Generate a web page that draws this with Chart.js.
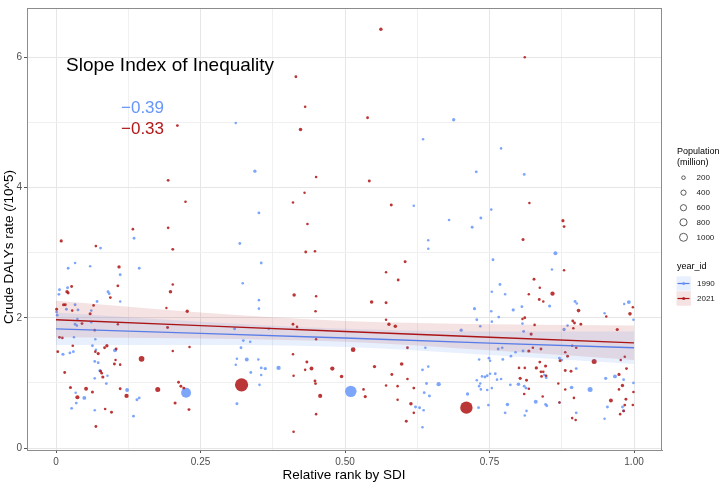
<!DOCTYPE html>
<html><head><meta charset="utf-8">
<script src="https://cdn.jsdelivr.net/npm/chart.js@4.4.0/dist/chart.umd.min.js"></script>
<style>html,body{margin:0;padding:0;background:#fff}#wrap{width:720px;height:482px;position:relative}</style>
</head><body><div id="wrap"><canvas id="c" width="720" height="482"></canvas></div>
<script>
// ---------- data ----------
const years = ['1990', '2021'];
const titleText = 'Slope Index of Inequality';
const siiValues = ['\u22120.39', '\u22120.33'];
const xTickValues = [0, 0.25, 0.5, 0.75, 1];
const xTickLabels = ['0', '0.25', '0.50', '0.75', '1.00'];
const xMinorValues = [0.125, 0.375, 0.625, 0.875];
const yTickValues = [0, 2, 4, 6];
const yTickLabels = ['0', '2', '4', '6'];
const yMinorValues = [1, 3, 5];
const legendPop = [200, 400, 600, 800, 1000];

const x2021 = [0.009,0.069,0.133,0.194,0.202,0.109,0.107,0.094,0.027,0.019,0.021,0.198,0.202,0.013,0.016,0.001,0.065,0.059,0.028,0.191,
0.227,0.045,0.107,0.193,0.067,0.006,0.011,0.003,0.029,0.088,0.084,0.104,0.073,0.068,0.148,0.103,0.101,0.111,0.015,0.077,
0.079,0.081,0.202,0.231,0.212,0.216,0.221,0.176,0.025,0.052,0.063,0.037,0.111,0.122,0.206,0.230,0.085,0.096,0.069,0.321,
0.580,0.435,0.432,0.448,0.604,0.571,0.592,0.412,0.450,0.449,0.546,0.571,0.571,0.576,0.587,0.410,0.417,0.514,0.434,0.410,
0.442,0.478,0.431,0.494,0.411,0.448,0.449,0.457,0.450,0.411,0.551,0.598,0.581,0.608,0.571,0.591,0.532,0.535,0.619,0.591,
0.614,0.619,0.606,0.608,0.450,
0.877,0.879,0.808,0.879,0.827,0.837,0.818,0.859,0.836,0.843,0.904,0.993,0.998,0.952,0.807,0.811,0.894,0.897,0.908,0.895,
0.828,0.971,0.822,0.818,0.825,0.839,0.885,0.872,0.881,0.893,0.900,0.931,0.837,0.847,0.831,0.843,0.839,0.801,0.811,0.881,
0.891,0.803,0.814,0.840,0.848,0.869,0.818,0.810,0.881,0.896,0.842,0.871,0.893,0.899,0.710,0.974,0.980,0.974,0.987,0.960,
0.986,0.984,0.999,0.998,0.976,0.982,0.977,0.984,
0.415,0.431,0.423,0.210,0.194,0.224,0.450,0.430,0.410,0.562,0.811,0.539,0.542,0.819];
const y2021 = [3.18,3.10,3.36,3.38,3.05,2.78,2.49,2.31,2.48,2.40,2.38,2.40,2.51,2.20,2.20,2.13,2.19,2.06,2.11,2.15,
2.10,1.91,1.90,1.85,1.81,1.70,1.69,1.48,1.57,1.57,1.54,1.52,1.45,1.48,1.37,1.35,1.29,1.28,1.16,1.18,
1.15,1.09,1.49,1.55,1.01,0.95,0.92,0.90,0.93,0.91,0.86,0.78,0.91,0.80,0.69,0.59,0.60,0.55,0.33,0.97,
3.73,3.44,3.01,3.02,2.86,2.70,2.58,2.35,2.33,2.10,2.24,2.23,1.97,1.90,1.87,1.90,1.86,1.51,1.32,1.44,
1.22,1.22,1.20,1.10,1.11,1.03,0.99,0.80,0.52,0.25,1.25,1.29,1.13,1.06,0.96,0.95,0.90,0.79,0.92,0.74,
0.68,0.54,0.41,1.54,1.67,
3.49,3.40,3.20,2.73,2.59,2.46,2.36,2.37,2.28,2.25,2.11,2.06,2.16,2.02,1.98,2.00,1.95,1.92,1.90,1.84,
1.89,1.82,1.75,1.49,1.54,1.52,1.41,1.34,1.47,1.57,1.54,1.33,1.32,1.26,1.23,1.17,1.17,1.23,1.23,1.19,
1.18,1.07,1.04,1.10,1.11,0.99,0.91,0.83,0.90,0.77,0.79,0.70,0.46,0.43,0.62,1.13,0.96,0.90,1.22,0.73,
0.75,0.66,0.86,0.66,0.52,0.57,1.35,1.40,
5.70,5.24,4.89,4.95,4.11,3.78,4.16,3.92,3.77,6.43,6.00,5.07,4.10,3.76];
const pop2021 = [15,5,5,5,8,20,8,8,8,20,10,25,3,12,10,10,5,12,4,2,
20,8,3,10,4,8,5,8,5,20,8,8,15,4,150,3,10,4,8,10,
5,15,3,3,8,10,10,100,12,40,12,50,8,60,12,10,4,10,8,1400,
10,4,8,4,10,3,8,25,3,4,25,10,3,20,25,8,4,80,10,3,
40,60,3,25,3,8,8,50,4,4,20,30,10,4,3,4,4,15,8,3,
25,4,10,8,4,
15,8,12,3,10,3,3,60,8,3,30,30,3,3,3,8,8,8,8,3,
4,15,15,15,4,8,10,10,4,4,4,100,8,15,20,4,8,4,4,8,
10,15,10,8,4,4,4,4,3,4,3,3,4,4,1200,15,20,4,8,40,
10,8,4,4,4,8,3,3,
8,4,25,8,8,4,4,3,3,25,3,8,10,3];

const x1990 = [0.077,0.033,0.021,0.059,0.111,0.144,0.135,0.006,0.005,0.020,0.090,0.092,0.071,0.111,0.033,0.018,0.038,0.001,0.002,0.061,
0.037,0.033,0.036,0.061,0.318,0.309,0.012,0.024,0.030,0.031,0.063,0.069,0.102,0.068,0.067,0.073,0.076,0.067,0.089,0.087,
0.034,0.049,0.035,0.027,0.123,0.140,0.144,0.134,0.067,0.225,0.313,0.320,0.313,0.311,0.351,0.619,0.355,0.323,0.351,0.351,
0.644,0.644,0.680,0.368,0.330,0.324,0.336,0.350,0.355,0.362,0.385,0.337,0.355,0.352,0.510,0.634,0.644,0.641,0.662,0.637,
0.646,0.622,0.629,0.636,0.634,0.639,0.735,0.720,0.753,0.864,0.756,0.858,0.768,0.754,0.777,0.898,0.901,0.991,0.724,0.753,
0.791,0.806,0.854,0.728,0.766,0.807,0.754,0.734,0.701,0.879,0.885,0.949,0.999,0.983,0.809,0.765,0.772,0.787,0.795,0.808,
0.732,0.749,0.751,0.773,0.871,0.875,0.900,0.737,0.742,0.746,0.751,0.760,0.728,0.763,0.770,0.734,0.735,0.746,0.754,0.786,
0.800,0.810,0.813,0.848,0.845,0.892,0.924,0.712,0.731,0.748,0.781,0.830,0.847,0.849,0.871,0.777,0.814,0.811,0.900,0.949,
0.951,0.967,0.982,0.954,0.980,0.982,0.999,0.732,0.311,0.344,0.688,0.635,0.770,0.727,0.810];
const y1990 = [3.07,2.84,2.76,2.79,2.66,2.76,3.22,2.43,2.36,2.46,2.40,2.37,2.25,2.25,2.20,2.13,2.12,2.09,2.04,2.11,
1.98,1.90,1.88,1.93,3.14,1.83,1.44,1.46,1.48,1.70,1.57,1.51,1.50,1.67,1.33,1.31,1.19,1.07,1.11,0.99,
0.85,0.77,0.69,0.61,0.89,0.74,0.77,0.49,0.58,0.85,0.68,1.54,1.37,1.28,3.61,3.72,2.84,2.53,2.27,2.14,
3.19,3.06,3.50,1.83,1.36,1.65,1.63,1.36,1.23,1.22,1.23,1.16,1.12,0.97,0.87,1.20,1.25,0.99,0.98,0.85,
0.80,0.63,0.62,0.58,0.32,1.54,3.53,3.39,3.66,2.99,2.89,2.74,2.51,2.40,2.36,2.25,2.22,2.24,2.14,2.10,
2.12,2.17,2.18,1.97,2.01,1.91,1.94,1.87,1.81,1.82,1.88,2.07,1.97,2.21,1.79,1.52,1.54,1.41,1.47,1.49,
1.36,1.38,1.34,1.36,1.38,1.35,1.22,1.10,1.09,1.11,1.14,1.14,1.04,1.05,1.06,0.99,0.90,0.89,0.92,0.97,
0.98,0.95,0.92,1.08,1.12,0.93,0.90,0.83,0.62,0.66,0.67,0.71,0.67,0.65,0.70,0.54,0.57,0.50,0.54,0.45,
1.07,1.10,1.05,0.63,0.63,0.57,1.00,0.95,4.99,4.25,5.04,4.74,4.60,4.24,4.20];
const pop1990 = [8,3,8,3,8,8,8,10,8,10,10,8,8,3,8,8,8,10,8,4,
4,8,4,4,8,10,15,8,8,3,8,4,40,3,8,8,15,4,3,8,
3,40,8,8,40,10,4,8,3,700,10,8,3,3,8,4,8,4,4,4,
4,4,4,4,40,8,4,4,8,20,60,8,3,4,1000,8,4,10,60,8,
10,10,10,4,4,3,10,10,3,40,8,3,8,4,4,10,4,40,15,4,
15,8,15,8,8,4,4,4,20,20,4,3,4,3,8,8,4,8,4,8,
4,8,4,8,8,4,8,4,8,8,4,8,4,4,4,4,4,4,4,8,
30,8,8,8,4,30,100,20,8,8,25,40,8,8,4,8,4,4,8,3,
15,40,8,8,8,8,4,4,3,20,20,3,3,8,8];

// fitted lines and 95% bands, read at x = 0, .25, .5, .75, 1
const fitX = [0, 0.25, 0.5, 0.75, 1];
const fit2021 = [1.97, 1.88, 1.79, 1.70, 1.615];
const upper2021 = [2.26, 2.08, 1.95, 1.90, 1.88];
const lower2021 = [1.70, 1.68, 1.63, 1.50, 1.35];
const fit1990 = [1.83, 1.76, 1.69, 1.61, 1.54];
const upper1990 = [2.08, 1.94, 1.83, 1.79, 1.79];
const lower1990 = [1.58, 1.58, 1.55, 1.43, 1.29];

// ---------- styling ----------
const FONT = "'Liberation Sans', Arial, Helvetica, sans-serif";
const BLUE_PT = 'rgba(102,150,250,0.85)';
const RED_PT = 'rgba(178,26,26,0.88)';
const BLUE_LINE = 'rgb(88,125,232)';
const RED_LINE = 'rgb(170,20,22)';
const BLUE_BAND = 'rgba(100,149,240,0.14)';
const RED_BAND = 'rgba(178,34,34,0.13)';
const rad = p => 1.0 + 0.15 * Math.sqrt(p);

const pts = (xs, ys, ps) => xs.map((x, i) => ({x: x, y: ys[i], pop: ps[i]}));
const curve = (xs, ys) => xs.map((x, i) => ({x: x, y: ys[i]}));

const bandCommon = {type: 'line', pointRadius: 0, borderWidth: 0, cubicInterpolationMode: 'monotone', order: 2};

const extras = {
  id: 'extras',
  beforeDraw(chart) {
    const c = chart.ctx;
    c.save(); c.fillStyle = '#fff'; c.fillRect(0, 0, chart.width, chart.height); c.restore();
  },
  afterDraw(chart) {
    const c = chart.ctx, a = chart.chartArea;
    c.save();
    // panel border
    c.strokeStyle = '#8c8c8c'; c.lineWidth = 1;
    c.strokeRect(a.left + 0.5, a.top + 0.5, a.right - a.left - 1, a.bottom - a.top);
    // annotation
    c.fillStyle = '#000'; c.textBaseline = 'middle'; c.textAlign = 'left';
    c.font = '19px ' + FONT;
    c.fillText(titleText, 66, 66);
    c.font = '17px ' + FONT;
    c.fillStyle = 'rgb(102,150,250)'; c.fillText(siiValues[0], 121, 108);
    c.fillStyle = 'rgb(178,26,26)'; c.fillText(siiValues[1], 121, 129.5);
    // axis titles
    c.fillStyle = '#000'; c.textAlign = 'center';
    c.font = '13.5px ' + FONT;
    c.fillText('Relative rank by SDI', 344, 475);
    c.save(); c.translate(9.5, 247); c.rotate(-Math.PI / 2);
    c.fillText('Crude DALYs rate (/10^5)', 0, 0); c.restore();
    // size legend
    c.textAlign = 'left'; c.fillStyle = '#000';
    c.font = '9px ' + FONT;
    c.fillText('Population', 677, 152);
    c.fillText('(million)', 677, 162.5);
    const ly = [177.7, 192.7, 207.7, 222.3, 237.3];
    const lr = [1.8, 2.6, 3.1, 3.6, 4.0];
    c.font = '8px ' + FONT;
    legendPop.forEach((v, i) => {
      c.beginPath(); c.arc(683.5, ly[i], lr[i], 0, Math.PI * 2);
      c.strokeStyle = '#333'; c.lineWidth = 0.8; c.stroke();
      c.fillStyle = '#1a1a1a'; c.fillText(String(v), 696.5, ly[i]);
    });
    // colour legend
    c.font = '9px ' + FONT; c.fillStyle = '#000';
    c.fillText('year_id', 677, 266.7);
    const ky = [283.5, 298.5];
    const bands = [BLUE_BAND, RED_BAND], lines = [BLUE_LINE, RED_LINE], ptc = [BLUE_PT, RED_PT];
    years.forEach((yr, i) => {
      c.fillStyle = bands[i]; c.fillRect(676.5, ky[i] - 7.2, 14.4, 14.4);
      c.strokeStyle = lines[i]; c.lineWidth = 1.2;
      c.beginPath(); c.moveTo(677.5, ky[i]); c.lineTo(689.5, ky[i]); c.stroke();
      c.fillStyle = ptc[i]; c.beginPath(); c.arc(683.7, ky[i], 1.6, 0, Math.PI * 2); c.fill();
      c.fillStyle = '#1a1a1a'; c.font = '8px ' + FONT; c.fillText(yr, 697, ky[i]);
    });
    c.restore();
  }
};

const isIn = (arr, v) => arr.some(t => Math.abs(t - v) < 1e-9);

new Chart(document.getElementById('c'), {
  type: 'scatter',
  data: {
    datasets: [
      {label: '2021', data: pts(x2021, y2021, pop2021), backgroundColor: RED_PT, borderWidth: 0,
       pointRadius: ctx => rad(ctx.raw.pop), order: 3},
      {label: '1990', data: pts(x1990, y1990, pop1990), backgroundColor: BLUE_PT, borderWidth: 0,
       pointRadius: ctx => rad(ctx.raw.pop), order: 4},
      Object.assign({}, bandCommon, {label: 'u1990', data: curve(fitX, upper1990), fill: false}),
      Object.assign({}, bandCommon, {label: 'l1990', data: curve(fitX, lower1990), fill: '-1', backgroundColor: BLUE_BAND}),
      Object.assign({}, bandCommon, {label: 'u2021', data: curve(fitX, upper2021), fill: false}),
      Object.assign({}, bandCommon, {label: 'l2021', data: curve(fitX, lower2021), fill: '-1', backgroundColor: RED_BAND}),
      {type: 'line', label: 'fit1990', data: curve(fitX, fit1990), borderColor: BLUE_LINE, borderWidth: 1.4, pointRadius: 0, fill: false, order: 1},
      {type: 'line', label: 'fit2021', data: curve(fitX, fit2021), borderColor: RED_LINE, borderWidth: 1.4, pointRadius: 0, fill: false, order: 1}
    ]
  },
  options: {
    responsive: false, animation: false, devicePixelRatio: 1,
    layout: {padding: {left: 0, right: 58, top: 1, bottom: 0}},
    plugins: {legend: {display: false}, tooltip: {enabled: false}},
    scales: {
      x: {
        type: 'linear', min: -0.0502, max: 1.0484,
        afterBuildTicks: s => { s.ticks = xTickValues.concat(xMinorValues).sort((a, b) => a - b).map(v => ({value: v})); },
        afterFit: s => { s.height = 32; },
        ticks: {autoSkip: false, maxRotation: 0, padding: 3, color: '#4d4d4d', font: {family: FONT, size: 10},
          callback: v => { const i = xTickValues.findIndex(t => Math.abs(t - v) < 1e-9); return i >= 0 ? xTickLabels[i] : ''; }},
        grid: {tickLength: 3, lineWidth: 1,
          color: ctx => isIn(xTickValues, ctx.tick.value) ? '#e6e6e6' : '#f0f0f0',
          tickColor: ctx => isIn(xTickValues, ctx.tick.value) ? '#555' : 'rgba(0,0,0,0)'},
        border: {display: true, color: '#8c8c8c'}
      },
      y: {
        type: 'linear', min: -0.03, max: 6.755,
        afterBuildTicks: s => { s.ticks = yTickValues.concat(yMinorValues).sort((a, b) => a - b).map(v => ({value: v})); },
        afterFit: s => { s.width = 27; },
        ticks: {autoSkip: false, padding: 2, color: '#4d4d4d', font: {family: FONT, size: 10},
          callback: v => { const i = yTickValues.findIndex(t => Math.abs(t - v) < 1e-9); return i >= 0 ? yTickLabels[i] : ''; }},
        grid: {tickLength: 3, lineWidth: 1,
          color: ctx => isIn(yTickValues, ctx.tick.value) ? '#e6e6e6' : '#f0f0f0',
          tickColor: ctx => isIn(yTickValues, ctx.tick.value) ? '#555' : 'rgba(0,0,0,0)'},
        border: {display: true, color: '#8c8c8c'}
      }
    }
  },
  plugins: [extras]
});
</script>
</body></html>
